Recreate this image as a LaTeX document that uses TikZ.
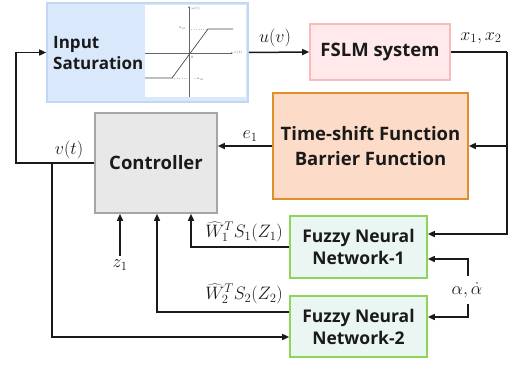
\RequirePackage{fix-cm}
\documentclass[tikz,border=0pt]{standalone}
\usepackage{fontspec}
\setmainfont{Open Sans}
\usetikzlibrary{arrows.meta,calc}
\definecolor{insatfill}{HTML}{DAE8FC}
\definecolor{insatdraw}{HTML}{C2D6F6}
\definecolor{fslmfill}{HTML}{FFE9EA}
\definecolor{fslmdraw}{HTML}{F8BCBC}
\definecolor{tsfill}{HTML}{FCDCC8}
\definecolor{tsdraw}{HTML}{E0902A}
\definecolor{ctrlfill}{HTML}{E8E8E8}
\definecolor{ctrldraw}{HTML}{A6A6A6}
\definecolor{fnnfill}{HTML}{EAF6F2}
\definecolor{fnndraw}{HTML}{8FD45A}
\definecolor{txt}{HTML}{1A1A1A}
\tikzset{
  blk/.style={draw, line width=1.6pt, inner sep=0pt, text=txt, align=center},
  arr/.style={line width=1.5pt, -{Triangle[length=7pt,width=6pt]}, txt},
  ln/.style={line width=1.5pt, txt},
  lbl/.style={inner sep=0pt, text=txt, font=\fontsize{18}{20}\selectfont},
  tiny/.style={inner sep=0pt, text=black!70, font=\fontsize{3.5}{4}\selectfont},
}
\begin{document}
\begin{tikzpicture}[x=1pt,y=-1pt]
\useasboundingbox (0,0) rectangle (510,364);
% blocks
\node[blk, fill=insatfill, draw=insatdraw, minimum width=201pt, minimum height=99pt] (insat) at (147.5,52.5) {};
\node[inner sep=0pt, anchor=west, text=txt, font=\fontsize{17}{21}\selectfont\bfseries, align=left] (insattxt) at (53,53) {Input\\Saturation};
\node[blk, fill=fslmfill, draw=fslmdraw, minimum width=140pt, minimum height=56pt, font=\fontsize{18.5}{22}\selectfont\bfseries] (fslm) at (380,52) {FSLM system};
\node[blk, fill=tsfill, draw=tsdraw, minimum width=195pt, minimum height=106pt, font=\fontsize{18.5}{25}\selectfont\bfseries] (ts) at (370.5,146) {Time-shift Function\\Barrier Function};
\node[blk, fill=ctrlfill, draw=ctrldraw, minimum width=122pt, minimum height=100pt, font=\fontsize{18.5}{22}\selectfont\bfseries] (ctrl) at (156,163) {Controller};
\node[blk, fill=fnnfill, draw=fnndraw, minimum width=137pt, minimum height=62pt, font=\fontsize{17.5}{22}\selectfont\bfseries] (fnn1) at (358.5,247) {Fuzzy Neural\\Network-1};
\node[blk, fill=fnnfill, draw=fnndraw, minimum width=137pt, minimum height=61pt, font=\fontsize{17.5}{22}\selectfont\bfseries] (fnn2) at (358.5,326.5) {Fuzzy Neural\\Network-2};
% saturation plot
\fill[white] (145,5) rectangle (246,97);
\draw[black!25, line width=0.4pt, dotted] (189,29) -- (208,29);
\draw[black!25, line width=0.4pt, dotted] (172,78) -- (189,78);
\draw[black!60, line width=0.5pt, -{Stealth[length=2pt,width=1.6pt]}] (145,53) -- (233,53);
\draw[black!60, line width=0.5pt, -{Stealth[length=2pt,width=1.6pt]}] (189,97) -- (189,6);
\draw[black!70, line width=0.7pt] (145,78) -- (172,78) -- (208,29) -- (233,29);
\node[tiny, anchor=west] (pu) at (191,9) {$u(t)$};
\node[tiny, anchor=west] (pv) at (234,53) {$v(t)$};
\node[tiny, anchor=east] (pum) at (186,28) {$u_M$};
\node[tiny, anchor=west] (pmum) at (193,79) {$-u_M$};
\node[tiny] (p0) at (192,57) {$0$};
% labels
\node[lbl] (uv) at (275,38) {$u(v)$};
\node[lbl] (xx) at (481,38) {$x_1,x_2$};
\node[lbl] (e1) at (250,136) {$e_1$};
\node[lbl] (vt) at (69,150) {$v(t)$};
\node[lbl] (z1) at (120,265) {$z_1$};
\node[lbl, anchor=east] (w1) at (283,232) {$\widehat{W}_1^T S_1(Z_1)$};
\node[lbl, anchor=east] (w2) at (283,294) {$\widehat{W}_2^T S_2(Z_2)$};
\node[lbl] (al) at (467,290) {$\alpha,\dot{\alpha}$};
% connectors
\coordinate (rc) at (507,52);
\coordinate (vj) at (52,163);
\coordinate (alt) at (468,276);
\coordinate (alb) at (468,304);
\draw[arr] (insat.east) -- (fslm.west);
\draw[ln] (fslm.east) -- (rc);
\draw[arr] (rc) |- ($(fnn1.east)+(0,-13)$);
\draw[arr] (rc |- ts.east) -- (ts.east);
\draw[arr] (ts.west) -- (ts.west -| ctrl.east);
\draw[arr] (ctrl.west) -- ++(-78,0) |- (insat.west);
\draw[arr] (vj) |- ($(fnn2.west)+(0,10.5)$);
\draw[arr] ($(z1.north)+(0,-4)$) -- (z1.north |- ctrl.south);
\draw[arr] (fnn1.west) -| ($(ctrl.south)+(35,0)$);
\draw[arr] ($(fnn2.west)+(0,-14.5)$) -| ($(ctrl.south)+(1,0)$);
\draw[arr] (alt) |- ($(fnn1.east)+(0,12)$);
\draw[arr] (alb) |- ($(fnn2.east)+(0,-9.5)$);
\end{tikzpicture}
\end{document}
